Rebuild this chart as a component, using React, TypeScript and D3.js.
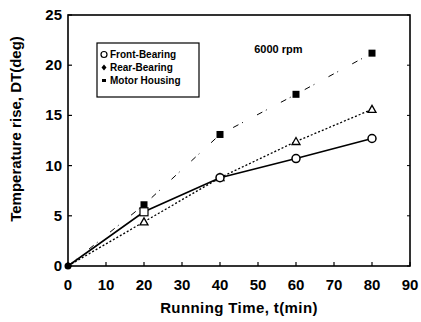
import React from "react";
import { scaleLinear, line } from "d3";

// x = running time (min)
const times = [0, 20, 40, 60, 80];
const frontBearing = [0, 5.4, 8.8, 10.7, 12.7];
const rearBearing = [0, 4.4, 8.8, 12.4, 15.6];
const motorHousing = [0, 6.1, 13.1, 17.1, 21.2];
const xTicks = [0, 10, 20, 30, 40, 50, 60, 70, 80, 90];
const yTicks = [0, 5, 10, 15, 20, 25];
const legendLabels = ["Front-Bearing", "Rear-Bearing", "Motor Housing"];

const W = 421;
const H = 322;
const m = { left: 68, right: 11, top: 15, bottom: 56 };

export default function App() {
    const x = scaleLinear().domain([0, 90]).range([m.left, W - m.right]);
    const y = scaleLinear().domain([0, 25]).range([H - m.bottom, m.top]);

    const pts = (vals: number[]) => vals.map((v, i) => [times[i], v] as [number, number]);
    const path = line<[number, number]>()
        .x((d) => x(d[0]))
        .y((d) => y(d[1]));

    const font = "'Liberation Sans', Arial, sans-serif";

    return (
        <svg width={W} height={H} style={{ position: "absolute", left: 0, top: 0, background: "#fff" }}>
            {/* frame */}
            <rect x={x(0)} y={y(25)} width={x(90) - x(0)} height={y(0) - y(25)} fill="none" stroke="#000" strokeWidth={1.6} />

            {/* x ticks (inward) */}
            {xTicks.map((t) => (
                <g key={"x" + t}>
                    <line x1={x(t)} x2={x(t)} y1={y(0)} y2={y(0) - 4} stroke="#000" strokeWidth={1.2} />
                    <text x={x(t)} y={y(0) + 24} textAnchor="middle" fontFamily={font} fontWeight="bold" fontSize={15}>
                        {t}
                    </text>
                </g>
            ))}
            {/* y ticks */}
            {yTicks.map((t) => (
                <g key={"y" + t}>
                    <line x1={x(0)} x2={x(0) + 4} y1={y(t)} y2={y(t)} stroke="#000" strokeWidth={1.2} />
                    <line x1={x(90)} x2={x(90) - 3} y1={y(t)} y2={y(t)} stroke="#000" strokeWidth={1} />
                    <text x={x(0) - 6} y={y(t) + 5} textAnchor="end" fontFamily={font} fontWeight="bold" fontSize={15}>
                        {t}
                    </text>
                </g>
            ))}

            {/* axis titles */}
            <text
                x={x(45)}
                y={H - 9}
                textAnchor="middle"
                fontFamily={font}
                fontSize={15}
                fontWeight="bold"
                letterSpacing={0.4}
            >
                Running Time, t(min)
            </text>
            <text
                transform={`translate(21,129) rotate(-90)`}
                textAnchor="middle"
                fontFamily={font}
                fontSize={15}
                fontWeight="bold"
            >
                Temperature rise, DT(deg)
            </text>

            {/* series */}
            <path d={path(pts(motorHousing)) ?? ""} fill="none" stroke="#000" strokeWidth={1} strokeDasharray="6 4 1 16" />
            <path d={path(pts(rearBearing)) ?? ""} fill="none" stroke="#000" strokeWidth={1.3} strokeDasharray="2 2" />
            <path d={path(pts(frontBearing)) ?? ""} fill="none" stroke="#000" strokeWidth={1.6} />

            {motorHousing.map((v, i) =>
                i === 0 ? null : (
                    <rect key={"m" + i} x={x(times[i]) - 3.5} y={y(v) - 3.5} width={7} height={7} fill="#000" />
                )
            )}
            {rearBearing.map((v, i) =>
                i === 0 ? null : (
                    <path
                        key={"r" + i}
                        d={`M${x(times[i])},${y(v) - 4}L${x(times[i]) + 4},${y(v) + 3}L${x(times[i]) - 4},${y(v) + 3}Z`}
                        fill="#fff"
                        stroke="#000"
                        strokeWidth={1.3}
                    />
                )
            )}
            {frontBearing.map((v, i) =>
                i === 0 ? null : i === 1 ? (
                    <rect key={"f" + i} x={x(times[i]) - 4} y={y(v) - 4} width={8} height={8} fill="#fff" stroke="#000" strokeWidth={1.2} />
                ) : (
                    <circle key={"f" + i} cx={x(times[i])} cy={y(v)} r={4} fill="#fff" stroke="#000" strokeWidth={1.5} />
                )
            )}
            <circle cx={x(0)} cy={y(0)} r={3.5} fill="#000" />

            {/* annotation */}
            <text x={x(49)} y={y(21.2)} fontFamily={font} fontSize={11} fontWeight="bold">
                6000 rpm
            </text>

            {/* legend */}
            <g fontFamily={font} fontSize={10} fontWeight="bold">
                <rect x={97} y={43} width={102} height={54} fill="#fff" stroke="#000" strokeWidth={1.2} />
                {legendLabels.map((lab, i) => (
                    <text key={lab} x={110} y={58 + i * 13}>
                        {lab}
                    </text>
                ))}
                <circle cx={104} cy={54.5} r={3} fill="#fff" stroke="#000" strokeWidth={1.2} />
                <path d="M104,64.5L106.5,67.5L104,70.5L101.5,67.5Z" fill="#000" />
                <rect x={102} y={79} width={4} height={3} fill="#000" />
            </g>
        </svg>
    );
}
